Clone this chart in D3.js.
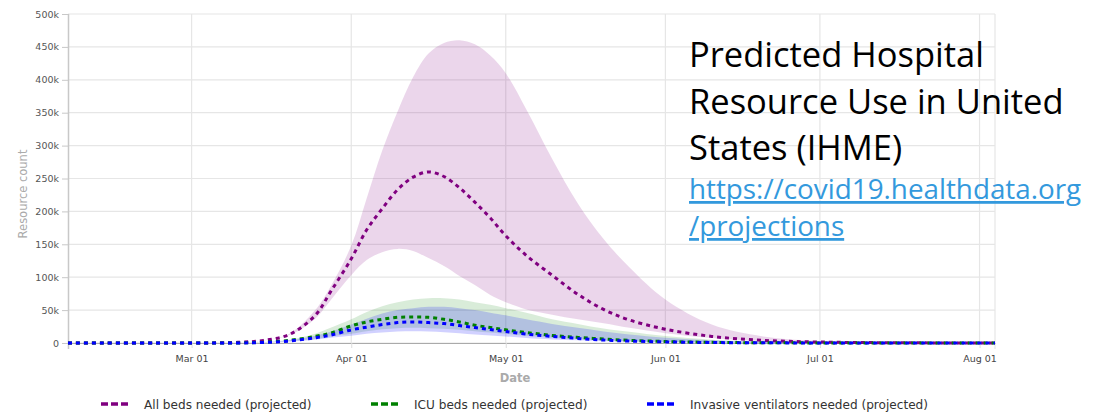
<!DOCTYPE html>
<html><head><meta charset="utf-8">
<script src="https://cdn.jsdelivr.net/npm/d3@7"></script>
<style>
html,body{margin:0;padding:0;background:#fff;}
svg{display:block;}
</style></head>
<body>
<svg id="chart" width="1099" height="412"></svg>
<script>
// ---- data ----
const dates = ["2020-02-06","2020-03-01","2020-03-10","2020-03-15","2020-03-20","2020-03-25","2020-03-28",
  "2020-04-01","2020-04-04","2020-04-07","2020-04-10","2020-04-13","2020-04-16","2020-04-19","2020-04-22",
  "2020-04-25","2020-04-28","2020-05-01","2020-05-05","2020-05-10","2020-05-15","2020-05-20","2020-05-25",
  "2020-06-01","2020-06-10","2020-06-20","2020-07-01","2020-07-15","2020-08-04"];

const allBedsMean  = [0,0,1000,4000,13000,42000,78000,128000,172000,204000,233000,252000,260000,253000,236000,214000,190000,163000,133000,103000,74000,51000,35000,21000,10000,4000,1500,400,0];
const allBedsUpper = [0,0,1000,4200,14000,50000,86000,148000,220000,292000,352000,404000,440000,456000,460000,454000,437000,410000,355000,280000,212000,158000,115000,66000,28000,10000,3000,600,0];
const allBedsLower = [0,0,1000,3800,12000,37000,65000,103000,126000,138000,143000,140000,129000,117000,102000,88000,73000,62000,51000,43000,36000,30000,23000,15000,7600,3000,800,200,0];

const icuMean  = [0,0,100,1200,4000,10000,15000,26000,32000,36000,39000,39500,39000,36000,32000,27000,23500,20000,16000,11500,8500,6000,4000,2300,1000,400,150,50,0];
const icuUpper = [0,0,100,1400,5000,14000,23000,36000,47000,56000,62000,66000,68000,68000,66000,62000,58000,53000,46000,36000,29000,22000,17000,10500,5000,2000,700,200,0];
const icuLower = [0,0,100,1000,3000,6000,10000,14000,18000,21000,22500,23000,22500,21500,20000,18000,16000,14000,11000,8000,6000,4000,2700,1500,600,250,80,20,0];

const ventMean  = [0,0,80,800,3000,8000,12000,20000,24000,28000,31000,32000,31000,29500,26500,23500,20500,17500,13500,10000,7000,4500,3000,1700,700,300,100,30,0];
const ventUpper = [0,0,80,1000,4000,11000,17000,28000,37000,45000,50000,53000,55000,55000,53000,50000,46000,42000,36000,29000,23000,17500,13000,8000,4000,1500,500,150,0];
const ventLower = [0,0,60,600,2000,5000,8000,11000,14000,16000,17500,18000,17500,16500,15000,13000,11500,10000,7500,5500,4000,2600,1800,1000,400,150,50,10,0];

const yTicks = [0,50000,100000,150000,200000,250000,300000,350000,400000,450000,500000];
const xTickDates = ["2020-03-01","2020-04-01","2020-05-01","2020-06-01","2020-07-01","2020-08-01"];
const xDomain = ["2020-02-06","2020-08-04"];

const legendLabels = ["All beds needed (projected)","ICU beds needed (projected)","Invasive ventilators needed (projected)"];
const titleLines = ["Predicted Hospital","Resource Use in United","States (IHME)"];
const linkLines = ["https://covid19.healthdata.org","/projections"];

// ---- chart ----
(function(){
const parse = d3.utcParse("%Y-%m-%d");
const mL = 68, mR = 995, mT = 14, mB = 343;
const svg = d3.select("#chart");
const AX = "'DejaVu Sans', sans-serif";

const x = d3.scaleUtc().domain(xDomain.map(parse)).range([mL, mR]);
const y = d3.scaleLinear().domain([0, 500000]).range([mB, mT]);
const fmtK = v => v === 0 ? "0" : (v/1000) + "k";

// gridlines
const g = svg.append("g");
g.selectAll(".hg").data(yTicks).join("line")
  .attr("x1", mL).attr("x2", mR)
  .attr("y1", d => y(d)).attr("y2", d => y(d))
  .attr("stroke", "#e6e6e6").attr("stroke-width", 1.2);
g.selectAll(".vg").data(xTickDates.map(parse)).join("line")
  .attr("x1", d => x(d)).attr("x2", d => x(d))
  .attr("y1", mT).attr("y2", mB)
  .attr("stroke", "#e6e6e6").attr("stroke-width", 1.2);
g.append("line").attr("x1", mR).attr("x2", mR).attr("y1", mT).attr("y2", mB + 6)
  .attr("stroke", "#e6e6e6").attr("stroke-width", 1.2);

const dd = dates.map(parse);
function rows(a, b) { return dd.map((d, i) => ({d, lo: a[i], hi: b[i]})); }
function pts(a) { return dd.map((d, i) => ({d, v: a[i]})); }
const curve = d3.curveCatmullRom.alpha(0.5);

const area = d3.area().curve(curve)
  .x(p => x(p.d)).y0(p => y(p.lo)).y1(p => y(p.hi));
const line = d3.line().curve(curve)
  .x(p => x(p.d)).y(p => y(p.v));

const bands = [
  {lo: allBedsLower, hi: allBedsUpper, c: "#800080", o: 0.16},
  {lo: icuLower, hi: icuUpper, c: "#008000", o: 0.15},
  {lo: ventLower, hi: ventUpper, c: "#0000ff", o: 0.18}
];
svg.append("defs").append("clipPath").attr("id", "clip")
  .append("rect").attr("x", mL).attr("y", mT - 2).attr("width", mR - mL).attr("height", mB - mT + 2);
svg.append("g").attr("clip-path", "url(#clip)").selectAll("path").data(bands).join("path")
  .attr("d", b => area(rows(b.lo, b.hi)))
  .attr("fill", b => b.c).attr("fill-opacity", b => b.o);

// axes
const yAxis = svg.append("g").attr("transform", `translate(${mL},0)`)
  .call(d3.axisLeft(y).tickValues(yTicks).tickFormat(fmtK).tickSize(6).tickSizeOuter(0));
yAxis.select(".domain").attr("stroke", "#c8c8c8").attr("stroke-width", 1.5)
  .attr("d", `M0.5,${mT}V${mB + 6}`);
yAxis.selectAll(".tick line").attr("stroke", "#c8c8c8");
yAxis.selectAll(".tick text").attr("fill", "#555").attr("font-size", 9.5)
  .attr("font-family", AX);

const xAxis = svg.append("g").attr("transform", `translate(0,${mB})`)
  .call(d3.axisBottom(x).tickValues(xTickDates.map(parse)).tickFormat(d3.utcFormat("%b %d")).tickSize(5).tickSizeOuter(0));
xAxis.select(".domain").attr("stroke", "#aaa").attr("stroke-width", 1.2);
xAxis.selectAll(".tick line").attr("stroke", "#ddd");
xAxis.selectAll(".tick text").attr("fill", "#444").attr("font-size", 9.5)
  .attr("font-family", AX).attr("dy", "1.15em");

// lines
const lines = [
  {v: allBedsMean, c: "#800080"},
  {v: icuMean, c: "#008000"},
  {v: ventMean, c: "#0000ff"}
];
svg.append("g").selectAll("path").data(lines).join("path")
  .attr("d", l => line(pts(l.v)))
  .attr("fill", "none").attr("stroke", l => l.c)
  .attr("stroke-width", 3).attr("stroke-dasharray", "4,4");

// axis titles
svg.append("text").attr("x", 515).attr("y", 382).attr("text-anchor", "middle")
  .attr("font-family", AX).attr("font-size", 11.5).attr("font-weight", "bold")
  .attr("fill", "#aaa").text("Date");
svg.append("text").attr("transform", "translate(27,194) rotate(-90)").attr("text-anchor", "middle")
  .attr("font-family", AX).attr("font-size", 11.5)
  .attr("fill", "#aaa").text("Resource count");

// legend
const legX = [101, 371, 647];
const leg = svg.append("g").selectAll("g").data(lines).join("g")
  .attr("transform", (l, i) => `translate(${legX[i]},404)`);
leg.append("line").attr("x1", 0).attr("x2", 27).attr("y1", 0).attr("y2", 0)
  .attr("stroke", l => l.c).attr("stroke-width", 3.5).attr("stroke-dasharray", "7,3");
leg.append("text").attr("x", 43).attr("y", 4.5)
  .attr("font-family", AX).attr("font-size", 12.1)
  .attr("fill", "#333").text((l, i) => legendLabels[i]);

// title text
const tb = [67, 114, 160];
svg.append("g").selectAll("text").data(titleLines).join("text")
  .attr("x", 689).attr("y", (t, i) => tb[i])
  .attr("font-family", "'Open Sans', 'DejaVu Sans', sans-serif").attr("font-size", 34.5)
  .attr("fill", "#000").text(t => t);
const lb = [199, 236];
svg.append("g").selectAll("text").data(linkLines).join("text")
  .attr("x", 689).attr("y", (t, i) => lb[i])
  .attr("font-family", "'Open Sans', 'DejaVu Sans', sans-serif").attr("font-size", 27.8)
  .attr("fill", "#3399dd").attr("text-decoration", "underline").text(t => t);
})();
</script>
</body></html>
